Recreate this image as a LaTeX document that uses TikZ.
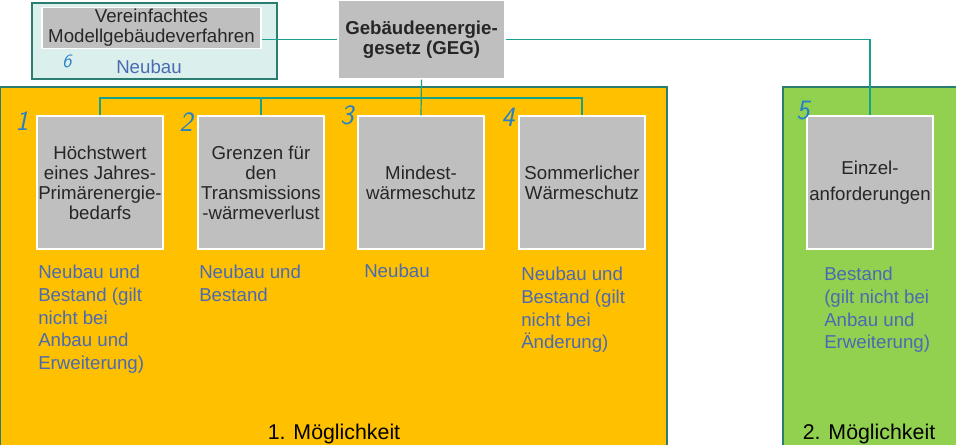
\documentclass[tikz,border=0pt]{standalone}
\usepackage{fontspec}
\setmainfont{Liberation Sans}
\usetikzlibrary{positioning}

\definecolor{grau}{HTML}{BFBFBF}
\definecolor{linie}{HTML}{17A08A}
\definecolor{rand}{HTML}{2A7D70}
\definecolor{hellteal}{HTML}{DBEFEC}
\definecolor{orange1}{HTML}{FFC000}
\definecolor{gruen1}{HTML}{92D050}
\definecolor{blau}{HTML}{4A6AB2}
\definecolor{zifferblau}{HTML}{2580C8}

\begin{document}
\begin{tikzpicture}[x=0.75pt, y=-0.75pt,
		feld/.style={draw=white, fill=grau, line width=0.8pt, minimum width=94.5pt, minimum height=99.75pt,
			inner sep=0pt, align=center, text=black!85, font=\fontsize{14}{15}\selectfont},
		hinweis/.style={anchor=north west, inner sep=0pt, align=left, text=blau, font=\fontsize{14}{17}\selectfont},
		ziffer/.style={text=zifferblau, inner sep=0pt, font=\fontsize{21}{21}\sffamily\itshape},
		verbindung/.style={draw=linie, line width=0.9pt},
		rahmen/.style={draw=rand, line width=0.8pt}]
		\useasboundingbox (0,0) rectangle (956,444);
		
		% Hintergrund der beiden Moeglichkeiten
		\draw[rahmen, fill=orange1] (0.5,87) rectangle (667,447);
		\draw[rahmen, fill=gruen1] (783,87) rectangle (958,447);
		\draw[rahmen, fill=hellteal] (32,3) rectangle (277,79);
		
		\node[feld, minimum width=164.25pt, minimum height=30.75pt] (modell) at (151.5,28) {Vereinfachtes\\Modellgebäudeverfahren};
		\node[feld, minimum width=125.25pt, minimum height=59.25pt, font=\fontsize{14}{15}\bfseries] (geg) at (421.5,39.5) {Gebäudeenergie-\\gesetz (GEG)};
		
		\node[feld] (hoechst) at (100,182.5) {Höchstwert\\eines Jahres-\\Primärenergie-\\bedarfs};
		\node[feld] (grenzen) at (261,182.5) {Grenzen für\\den\\Transmissions\\-wärmeverlust};
		\node[feld] (mindest) at (421,182.5) {Mindest-\\wärmeschutz};
		\node[feld] (sommer) at (582,182.5) {Sommerlicher\\Wärmeschutz};
		\node[feld, font=\fontsize{14}{20}\selectfont] (einzel) at (870,182.5) {Einzel-\\anforderungen};
		
		% Verbindungen
		\coordinate (schiene) at (0,98);
		\draw[verbindung] (geg.west) -- (geg.west -| modell.east);
		\draw[verbindung] (geg.east) -| (einzel.north);
		\draw[verbindung] (geg.south) -- (mindest.north);
		\draw[verbindung] (hoechst.north) |- (schiene -| sommer.north) -- (sommer.north);
		\draw[verbindung] (grenzen.north) -- (grenzen.north |- schiene);
		
		% Geltungsbereiche
		\node[hinweis] (neubau6) at (116,60) {Neubau};
		\node[hinweis] (hinweis1) at (38,265) {Neubau und\\Bestand (gilt\\nicht bei\\Anbau und\\Erweiterung)};
		\node[hinweis] (hinweis2) at (199,265) {Neubau und\\Bestand};
		\node[hinweis] (hinweis3) at (364,264) {Neubau};
		\node[hinweis] (hinweis4) at (521,267) {Neubau und\\Bestand (gilt\\nicht bei\\Änderung)};
		\node[hinweis] (hinweis5) at (824,267) {Bestand\\(gilt nicht bei\\Anbau und\\Erweiterung)};
		
		% Nummern
		\node[ziffer] (nr1) at (22,121) {1};
		\node[ziffer] (nr2) at (186,122) {2};
		\node[ziffer] (nr3) at (347,115) {3};
		\node[ziffer] (nr4) at (508,117) {4};
		\node[ziffer] (nr5) at (803,111) {5};
		\node[ziffer, font=\fontsize{14}{14}\sffamily\itshape] (nr6) at (67,61) {6};
		
		\node[anchor=base, font=\fontsize{16}{16}\selectfont] (moeglich1) at (334,439) {1. Möglichkeit};
		\node[anchor=base, font=\fontsize{16}{16}\selectfont] (moeglich2) at (869,439) {2. Möglichkeit};
	\end{tikzpicture}
\end{document}
